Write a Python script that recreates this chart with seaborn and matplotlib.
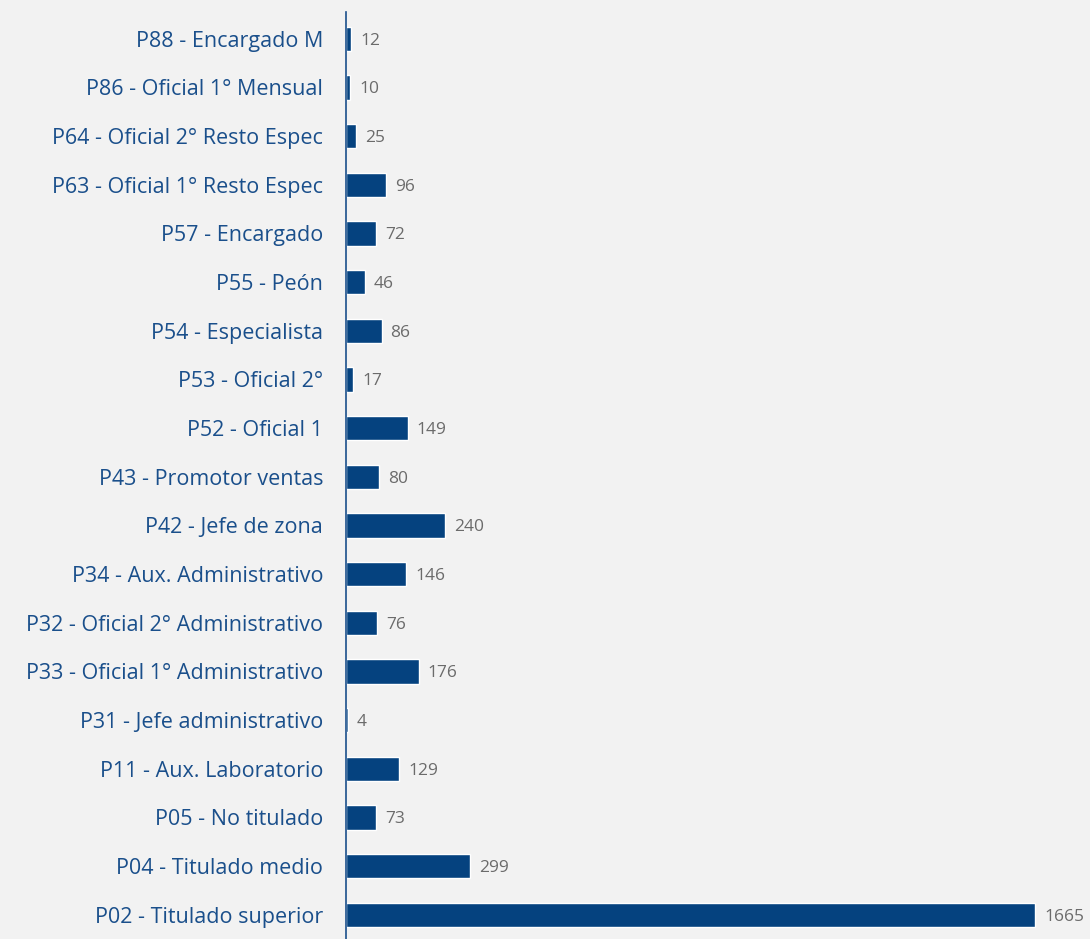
import pandas as pd
import numpy as np
import matplotlib.pyplot as plt
import seaborn as sns

# categories, top to bottom as shown
categories = [
    'P88 - Encargado M', 'P86 - Oficial 1° Mensual', 'P64 - Oficial 2° Resto Espec',
    'P63 - Oficial 1° Resto Espec', 'P57 - Encargado', 'P55 - Peón',
    'P54 - Especialista', 'P53 - Oficial 2°', 'P52 - Oficial 1',
    'P43 - Promotor ventas', 'P42 - Jefe de zona', 'P34 - Aux. Administrativo',
    'P32 - Oficial 2° Administrativo', 'P33 - Oficial 1° Administrativo',
    'P31 - Jefe administrativo', 'P11 - Aux. Laboratorio', 'P05 - No titulado',
    'P04 - Titulado medio', 'P02 - Titulado superior',
]
values = [12, 10, 25, 96, 72, 46, 86, 17, 149, 80, 240, 146, 76, 176, 4, 129, 73, 299, 1665]

df = pd.DataFrame({'categoria': categories, 'valor': values})

bg = '#f2f2f2'
bar_color = '#05427f'
sns.set_style('white')
plt.rcParams['font.family'] = ['Open Sans', 'DejaVu Sans']

fig = plt.figure(figsize=(10.9, 9.39), dpi=100, facecolor=bg)
ax = fig.add_axes([346 / 1090, 0, 1 - 346 / 1090, 927 / 939])
ax.set_facecolor(bg)

sns.barplot(data=df, x='valor', y='categoria', color=bar_color, width=0.5,
            saturation=1, ax=ax, orient='h')

# value labels just right of each bar
for i, v in enumerate(values):
    ax.annotate(str(v), xy=(v, i), xytext=(6.5, 0), textcoords='offset points',
                va='center_baseline', ha='left', fontsize=12.5, color='#6b6b6b')

ax.set_xlim(0, 1798)
ax.set_ylim(18.5, -0.55)
ax.set_xlabel('')
ax.set_ylabel('')
ax.set_xticks([])
ax.tick_params(axis='y', length=0, pad=16.5, labelsize=15.5, labelcolor='#1a4f8b')
for s in ['top', 'right', 'bottom']:
    ax.spines[s].set_visible(False)
ax.spines['left'].set_color('#1a4f8b')
ax.spines['left'].set_linewidth(1.2)

fig.savefig('out.png', dpi=100, facecolor=bg)
